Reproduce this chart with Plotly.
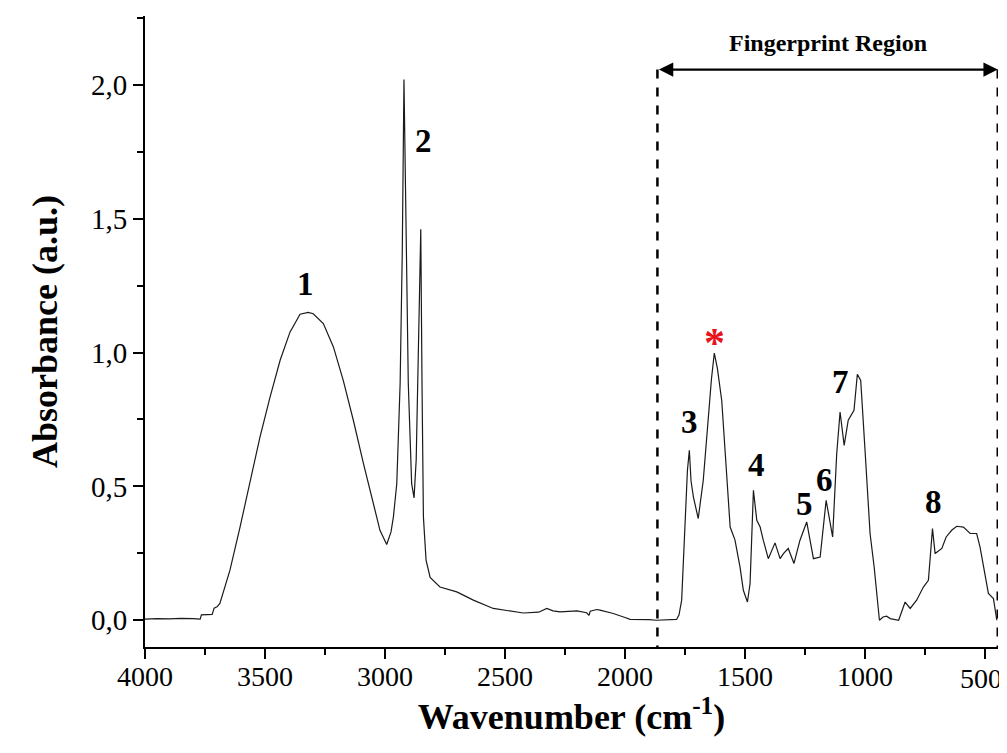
import plotly.graph_objects as go

# FTIR spectrum
wavenumber = [4000, 3950, 3900, 3850, 3800, 3770, 3765, 3720, 3712, 3700, 3688, 3646, 3604,
              3562, 3521, 3479, 3437, 3396, 3354, 3320, 3299, 3257, 3215, 3174, 3132, 3090,
              3049, 3021, 2993, 2975, 2965, 2951, 2937, 2928, 2921, 2914, 2903, 2889, 2879,
              2870, 2861, 2851, 2846, 2840, 2829, 2812, 2771, 2701, 2632, 2549, 2424, 2360,
              2326, 2300, 2271, 2200, 2160, 2150, 2145, 2118, 2104, 2062, 2049, 2000, 1979,
              1900, 1868, 1785, 1775, 1764, 1750, 1740, 1732, 1725, 1715, 1695, 1674, 1653,
              1640, 1628, 1615, 1597, 1580, 1570, 1562, 1542, 1521, 1507, 1490, 1479, 1465,
              1451, 1437, 1424, 1403, 1375, 1354, 1340, 1320, 1296, 1271, 1243, 1215, 1187,
              1162, 1135, 1118, 1104, 1087, 1070, 1046, 1032, 1018, 1000, 979, 962, 940, 925,
              910, 895, 868, 860, 833, 812, 785, 757, 736, 719, 708, 680, 662, 639, 618, 590,
              562, 535, 521, 500, 486, 465, 451]
absorbance = [0.004, 0.006, 0.005, 0.007, 0.006, 0.004, 0.020, 0.022, 0.045, 0.050, 0.063,
              0.187, 0.348, 0.523, 0.684, 0.833, 0.971, 1.076, 1.143, 1.150, 1.145, 1.108,
              1.021, 0.896, 0.747, 0.586, 0.436, 0.336, 0.283, 0.330, 0.386, 0.510, 0.884,
              1.380, 2.020, 1.500, 0.884, 0.510, 0.457, 0.600, 1.008, 1.460, 0.900, 0.386,
              0.224, 0.160, 0.124, 0.106, 0.075, 0.044, 0.027, 0.030, 0.044, 0.035, 0.031,
              0.035, 0.028, 0.018, 0.034, 0.040, 0.038, 0.030, 0.025, 0.010, 0.003, 0.002,
              0.000, 0.003, 0.020, 0.075, 0.336, 0.560, 0.635, 0.520, 0.460, 0.380, 0.523,
              0.772, 0.900, 0.998, 0.940, 0.820, 0.600, 0.448, 0.348, 0.300, 0.199, 0.112,
              0.068, 0.137, 0.485, 0.373, 0.348, 0.299, 0.230, 0.289, 0.230, 0.249, 0.268,
              0.212, 0.299, 0.367, 0.230, 0.236, 0.448, 0.311, 0.622, 0.778, 0.653, 0.747,
              0.784, 0.919, 0.896, 0.635, 0.324, 0.199, 0.000, 0.012, 0.015, 0.006, 0.000,
              0.000, 0.068, 0.044, 0.075, 0.124, 0.149, 0.342, 0.249, 0.268, 0.311, 0.336,
              0.351, 0.348, 0.324, 0.324, 0.274, 0.162, 0.100, 0.081, 0.000]

# peak labels
peak_labels = ["1", "2", "3", "4", "5", "6", "7", "8"]
peak_x = [3333, 2840, 1732, 1451, 1254, 1167, 1104, 715]
peak_y = [1.257, 1.79, 0.74, 0.579, 0.433, 0.523, 0.89, 0.442]
star_x, star_y = 1628, 1.035

# fingerprint region
fp_start, fp_end = 1865, 447
fp_arrow_y = 2.057
fp_label = "Fingerprint Region"

x_ticks = [4000, 3500, 3000, 2500, 2000, 1500, 1000, 500]
x_tick_labels = ["4000", "3500", "3000", "2500", "2000", "1500", "1000", "500"]
y_ticks = [0.0, 0.5, 1.0, 1.5, 2.0]
y_tick_text = ["0,0", "0,5", "1,0", "1,5", "2,0"]

FONT = "Liberation Serif"

fig = go.Figure()
fig.add_trace(go.Scatter(x=wavenumber, y=absorbance, mode="lines",
                         line=dict(color="#1a1a1a", width=1.2), showlegend=False,
                         hoverinfo="skip"))

annotations = []
for t, x, y in zip(peak_labels, peak_x, peak_y):
    annotations.append(dict(x=x, y=y, xref="x", yref="y", text=f"<b>{t}</b>",
                            showarrow=False, font=dict(family=FONT, size=33, color="black")))
annotations.append(dict(x=star_x, y=star_y, xref="x", yref="y", text="<b>*</b>",
                        showarrow=False, font=dict(family=FONT, size=42, color="#e8141c")))
# double-headed arrow
annotations.append(dict(x=fp_end, y=fp_arrow_y, ax=fp_start, ay=fp_arrow_y,
                        xref="x", yref="y", axref="x", ayref="y", text="",
                        showarrow=True, arrowhead=2, arrowside="end+start",
                        arrowsize=1.3, arrowwidth=2.2, arrowcolor="black"))
annotations.append(dict(x=(fp_start + fp_end) / 2, y=fp_arrow_y, xref="x", yref="y",
                        text=f"<b>{fp_label}</b>", showarrow=False, yshift=27,
                        font=dict(family=FONT, size=24, color="black")))
# last x tick label drawn as a nudged annotation so it stays inside the page edge
annotations.append(dict(x=x_ticks[-1], y=0, xref="x", yref="paper", text=x_tick_labels[-1],
                        showarrow=False, xanchor="center", yanchor="top",
                        xshift=-4, yshift=-14,
                        font=dict(family=FONT, size=28, color="black")))
x_tick_text = x_tick_labels[:-1] + [""]

shapes = []
for xv in (fp_start, fp_end):
    shapes.append(dict(type="line", xref="x", yref="y", x0=xv, x1=xv,
                       y0=fp_arrow_y, y1=-0.1,
                       line=dict(color="black", width=2.5, dash="dash")))

# the page body adds an 8 px offset, so the figure is 8 px smaller and margins shifted
fig.update_layout(
    width=999, height=745,
    margin=dict(l=137, r=9, t=8, b=106, autoexpand=False),
    paper_bgcolor="white", plot_bgcolor="white",
    font=dict(family=FONT, color="black", size=28),
    annotations=annotations, shapes=shapes,
    xaxis=dict(range=[4000, 446], autorange=False, tickvals=x_ticks, ticktext=x_tick_text,
               automargin=False,
               showgrid=False, zeroline=False, showline=True, linecolor="black",
               linewidth=2, ticks="outside", ticklen=10, tickwidth=2, tickcolor="black",
               ticklabeloverflow="allow", ticklabelstandoff=-7,
               minor=dict(dtick=250, tick0=0, ticks="outside", ticklen=6, tickwidth=2,
                          tickcolor="black", showgrid=False),
               tickfont=dict(family=FONT, size=28),
               title=dict(text="<b>Wavenumber (cm<sup>-1</sup>)</b>",
                          font=dict(family=FONT, size=36), standoff=2)),
    yaxis=dict(range=[-0.1, 2.257], autorange=False, tickvals=y_ticks, automargin=False,
               ticktext=y_tick_text, showgrid=False, zeroline=False, showline=True,
               linecolor="black", linewidth=2, ticks="outside", ticklen=10, tickwidth=2,
               tickcolor="black",
               minor=dict(dtick=0.25, tick0=0, ticks="outside", ticklen=6, tickwidth=2,
                          tickcolor="black", showgrid=False),
               tickfont=dict(family=FONT, size=29),
               title=dict(text="<b>Absorbance (a.u.)</b>",
                          font=dict(family=FONT, size=36), standoff=22)),
)

fig.write_html("out.html")
